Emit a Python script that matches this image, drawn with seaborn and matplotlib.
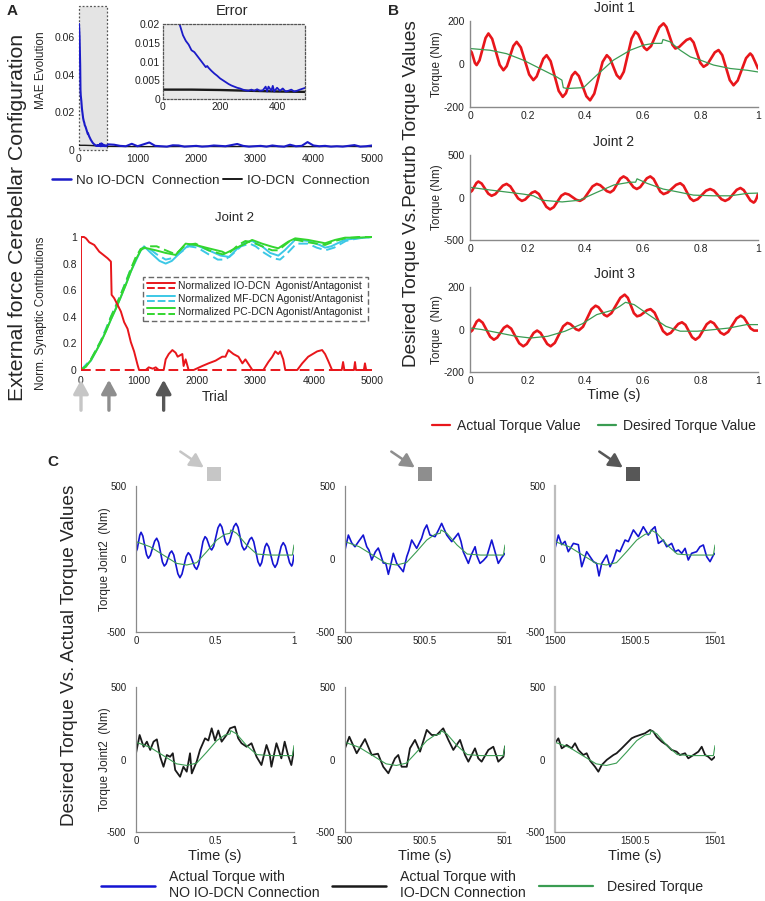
import numpy as np
import matplotlib
matplotlib.use("Agg")
import matplotlib.pyplot as plt
import seaborn as sns
from matplotlib.lines import Line2D
from matplotlib.patches import Rectangle, FancyArrowPatch
from matplotlib.legend_handler import HandlerBase
from matplotlib import font_manager

# ---------------- DATA ----------------
# Panel A (top): MAE evolution
mae_trials = [0, 10, 20, 25, 30, 40, 50, 60, 70, 80, 90, 100, 110, 120, 130, 140, 150, 155, 160, 170,
              180, 190, 200, 210, 220, 230, 240, 250, 260, 270, 280, 290, 300, 310, 320, 330, 340, 350,
              360, 365, 370, 380, 385, 390, 400, 410, 420, 430, 440, 450, 460, 470, 480,
              500, 600, 700, 800, 900, 1000, 1100, 1200, 1300, 1400, 1500, 1600, 1700, 1800, 1900,
              2000, 2100, 2200, 2300, 2400, 2500, 2600, 2700, 2800, 2900, 3000, 3100, 3200, 3300,
              3400, 3500, 3600, 3700, 3800, 3900, 4000, 4100, 4200, 4300, 4400, 4500, 4600, 4700,
              4800, 4900, 5000]
mae_no_io = [0.067, 0.060, 0.045, 0.032, 0.029, 0.026, 0.022, 0.0195, 0.017, 0.0155, 0.0145, 0.013,
             0.0125, 0.0115, 0.0105, 0.0095, 0.0085, 0.0088, 0.0083, 0.0075, 0.0068, 0.0062, 0.0055,
             0.0050, 0.0045, 0.0040, 0.0036, 0.0033, 0.0030, 0.0028, 0.0025, 0.0023, 0.0022, 0.0025,
             0.0022, 0.0026, 0.0022, 0.0023, 0.0033, 0.0020, 0.0033, 0.0022, 0.0035, 0.0020, 0.0030,
             0.0022, 0.0028, 0.0020, 0.0022, 0.0025, 0.0020, 0.0022, 0.0025,
             0.0030, 0.0028, 0.0022, 0.0020, 0.0033, 0.0020, 0.0030, 0.0040, 0.0022, 0.0020, 0.0018,
             0.0025, 0.0024, 0.0018, 0.0020, 0.0022, 0.0018, 0.0020, 0.0024, 0.0022, 0.0020, 0.0026,
             0.0032, 0.0022, 0.0018, 0.0020, 0.0022, 0.0018, 0.0024, 0.0020, 0.0018, 0.0028, 0.0020,
             0.0022, 0.0042, 0.0024, 0.0020, 0.0022, 0.0018, 0.0020, 0.0018, 0.0022, 0.0026, 0.0018,
             0.0020, 0.0024]
mae_io_trials = [0, 100, 200, 300, 400, 500, 1000, 1500, 2000, 2500, 3000, 3500, 4000, 4500, 5000]
mae_io = [0.0025, 0.0025, 0.0024, 0.0022, 0.0020, 0.0019, 0.0018, 0.0018, 0.0019, 0.0018, 0.0019,
          0.0018, 0.0018, 0.0019, 0.0018]

# Panel A (bottom): normalised synaptic contributions, Joint 2
io_ag_trial = [0, 0, 51, 86, 142, 228, 313, 371, 457, 514, 526, 570, 628, 685, 741, 800, 856, 912, 971,
               998, 1113, 1164, 1233, 1284, 1335, 1421, 1455, 1507, 1570, 1626, 1661, 1741, 1763, 1798,
               1849, 1935, 2083, 2191, 2311, 2426, 2482, 2534, 2619, 2705, 2773, 2825, 2945, 3133, 3219,
               3287, 3338, 3390, 3424, 3475, 3510, 3715, 3801, 3904, 4058, 4143, 4194, 4246, 4314, 4480,
               4503, 4525, 4690, 4708, 4725, 4860, 4879, 4900, 5000]
io_ag_val = [0, 1.0, 1.0, 0.99, 0.96, 0.94, 0.89, 0.87, 0.84, 0.815, 0.565, 0.54, 0.49, 0.44, 0.36, 0.31,
             0.21, 0.14, 0.04, 0.0, 0.0, 0.02, 0.01, 0.02, 0.0, 0.0, 0.08, 0.12, 0.15, 0.13, 0.10, 0.12,
             0.03, 0.08, 0.0, 0.0, 0.03, 0.05, 0.07, 0.10, 0.10, 0.15, 0.12, 0.10, 0.05, 0.08, 0.0, 0.0,
             0.06, 0.10, 0.14, 0.12, 0.14, 0.08, 0.0, 0.0, 0.05, 0.10, 0.14, 0.15, 0.12, 0.07, 0.0, 0.0,
             0.06, 0.0, 0.0, 0.06, 0.0, 0.0, 0.05, 0.0, 0.0]
io_an_trial = [0, 5000]
io_an_val = [0.0, 0.0]
pc_ag_trial = [0, 86, 171, 257, 342, 428, 514, 599, 685, 770, 856, 942, 1027, 1084, 1284, 1455, 1626,
               1798, 1969, 2191, 2426, 2482, 2654, 2825, 2940, 3111, 3282, 3390, 3561, 3681, 3903, 4194,
               4366, 4537, 4759, 5000]
pc_ag_val = [0.0, 0.025, 0.075, 0.14, 0.21, 0.29, 0.38, 0.46, 0.55, 0.64, 0.74, 0.83, 0.90, 0.92, 0.90,
             0.88, 0.865, 0.95, 0.94, 0.915, 0.89, 0.877, 0.915, 0.95, 0.978, 0.95, 0.927, 0.915, 0.965,
             0.99, 0.978, 0.953, 0.978, 0.995, 0.995, 1.0]
pc_an_trial = [0, 86, 171, 257, 342, 428, 514, 599, 685, 770, 856, 942, 1027, 1150, 1300, 1455, 1626,
               1798, 1969, 2191, 2426, 2550, 2700, 2825, 2940, 3111, 3282, 3390, 3561, 3681, 3903, 4194,
               4366, 4537, 4759, 5000]
pc_an_val = [0.0, 0.03, 0.08, 0.15, 0.22, 0.30, 0.40, 0.48, 0.57, 0.66, 0.76, 0.85, 0.91, 0.93, 0.93,
             0.90, 0.87, 0.94, 0.95, 0.90, 0.87, 0.88, 0.94, 0.97, 0.96, 0.93, 0.90, 0.90, 0.96, 0.98,
             0.96, 0.94, 0.97, 0.99, 1.0, 1.0]
mf_ag_trial = [0, 171, 342, 514, 685, 856, 1027, 1084, 1200, 1350, 1455, 1560, 1700, 1850, 1969, 2191,
               2400, 2550, 2700, 2825, 2940, 3111, 3250, 3390, 3500, 3681, 3903, 4100, 4194, 4300, 4537,
               4759, 5000]
mf_ag_val = [0.0, 0.07, 0.21, 0.38, 0.55, 0.74, 0.90, 0.93, 0.88, 0.82, 0.80, 0.82, 0.88, 0.94, 0.94,
             0.90, 0.86, 0.85, 0.92, 0.96, 0.97, 0.93, 0.88, 0.86, 0.90, 0.98, 0.97, 0.94, 0.92, 0.93,
             0.98, 0.99, 1.0]
mf_an_trial = [0, 171, 342, 514, 685, 856, 1027, 1150, 1300, 1455, 1560, 1700, 1850, 2000, 2191, 2350,
               2480, 2600, 2750, 2900, 3000, 3150, 3300, 3420, 3550, 3700, 3900, 4050, 4200, 4350, 4550,
               4759, 5000]
mf_an_val = [0.0, 0.08, 0.22, 0.40, 0.57, 0.76, 0.91, 0.92, 0.87, 0.83, 0.84, 0.88, 0.93, 0.92, 0.87,
             0.83, 0.83, 0.87, 0.93, 0.95, 0.93, 0.88, 0.84, 0.83, 0.88, 0.95, 0.95, 0.92, 0.90, 0.92,
             0.97, 0.99, 1.0]
arrow_trials = [0, 480, 1420]

# Panel B: desired vs perturbed torque
j1_t_act = [0, 0.006, 0.0115, 0.017, 0.023, 0.033, 0.0435, 0.054, 0.064, 0.077, 0.09, 0.103, 0.116,
            0.1275, 0.139, 0.1505, 0.162, 0.1765, 0.191, 0.2055, 0.22, 0.2315, 0.243, 0.2545, 0.266,
            0.28, 0.294, 0.308, 0.322, 0.333, 0.3435, 0.354, 0.365, 0.378, 0.391, 0.404, 0.417, 0.4315,
            0.446, 0.4605, 0.475, 0.4865, 0.498, 0.5095, 0.521, 0.534, 0.5475, 0.561, 0.574, 0.584,
            0.594, 0.604, 0.614, 0.6285, 0.643, 0.6575, 0.672, 0.682, 0.6925, 0.703, 0.713, 0.726,
            0.739, 0.752, 0.765, 0.7765, 0.788, 0.7995, 0.811, 0.824, 0.837, 0.85, 0.863, 0.876, 0.889,
            0.902, 0.915, 0.9295, 0.944, 0.9585, 0.973, 0.98, 0.99, 1.0]
j1_act = [64, 54, 30, 5, -5, 17, 69, 121, 142, 117, 57, -4, -29, -10, 37, 84, 103, 77, 14, -49, -75, -58,
          -17, 24, 41, 13, -56, -125, -153, -136, -95, -54, -37, -56, -103, -150, -169, -138, -64, 10, 41,
          25, -14, -52, -68, -36, 41, 118, 150, 138, 108, 77, 65, 83, 127, 171, 189, 172, 131, 89, 72, 79,
          96, 112, 119, 100, 53, 6, -13, -2, 26, 54, 65, 41, -17, -75, -99, -77, -25, 27, 49, 39, 10, -21]
j1_t_des = [0, 0.07, 0.127, 0.185, 0.243, 0.301, 0.319, 0.324, 0.336, 0.394, 0.44, 0.498, 0.556, 0.603,
            0.637, 0.666, 0.67, 0.695, 0.73, 0.765, 0.8, 0.846, 0.904, 0.962, 1.0]
j1_des = [72, 64, 48, 18, -21, -60, -75, -110, -114, -110, -52, 18, 64, 88, 96, 96, 114, 103, 64, 33, 18,
          -5, -21, -29, -37]
j2_t_act = [0, 0.007, 0.0145, 0.022, 0.029, 0.0405, 0.052, 0.0635, 0.075, 0.088, 0.101, 0.114, 0.127,
            0.14, 0.1535, 0.167, 0.18, 0.1915, 0.203, 0.2145, 0.226, 0.239, 0.252, 0.265, 0.278, 0.291,
            0.304, 0.317, 0.33, 0.343, 0.356, 0.369, 0.382, 0.3965, 0.411, 0.4255, 0.44, 0.452, 0.4635,
            0.475, 0.487, 0.4985, 0.51, 0.5215, 0.533, 0.5445, 0.556, 0.5675, 0.579, 0.591, 0.6025,
            0.614, 0.626, 0.6375, 0.649, 0.6605, 0.672, 0.6865, 0.701, 0.7155, 0.73, 0.7415, 0.753,
            0.7645, 0.776, 0.7905, 0.805, 0.8195, 0.834, 0.847, 0.86, 0.873, 0.886, 0.899, 0.9125, 0.926,
            0.939, 0.9505, 0.962, 0.9735, 0.985, 0.99, 0.995, 1.0]
j2_act = [60, 79, 124, 169, 188, 164, 104, 45, 20, 40, 90, 140, 160, 131, 60, -11, -40, -24, 16, 56, 72,
          41, -34, -109, -140, -113, -46, 21, 48, 35, 4, -27, -40, -11, 60, 131, 160, 145, 110, 75, 60,
          87, 154, 221, 248, 226, 174, 122, 100, 122, 174, 226, 248, 218, 144, 70, 40, 59, 104, 149, 168,
          138, 64, -10, -40, -20, 30, 80, 100, 80, 30, -20, -40, -18, 36, 90, 112, 87, 26, -35, -60, -45,
          -10, 40]
j2_t_des = [0, 0.07, 0.185, 0.22, 0.25, 0.32, 0.38, 0.44, 0.5, 0.556, 0.575, 0.58, 0.614, 0.67, 0.73,
            0.776, 0.846, 0.904, 0.962, 1.0]
j2_des = [120, 88, 40, 20, -32, -52, -32, 60, 148, 180, 180, 220, 168, 100, 60, 28, 20, 20, 48, 52]
j3_t_act = [0, 0.008, 0.0155, 0.023, 0.031, 0.044, 0.057, 0.07, 0.083, 0.0945, 0.106, 0.1175, 0.129,
            0.143, 0.157, 0.171, 0.185, 0.197, 0.209, 0.221, 0.233, 0.245, 0.2565, 0.268, 0.28, 0.2945,
            0.309, 0.3235, 0.338, 0.348, 0.358, 0.368, 0.378, 0.3925, 0.407, 0.4215, 0.436, 0.446, 0.456,
            0.466, 0.476, 0.491, 0.5065, 0.522, 0.537, 0.548, 0.5585, 0.569, 0.58, 0.592, 0.6035, 0.615,
            0.627, 0.641, 0.6555, 0.67, 0.684, 0.697, 0.71, 0.723, 0.736, 0.748, 0.7595, 0.771, 0.783,
            0.796, 0.809, 0.822, 0.835, 0.847, 0.8585, 0.87, 0.882, 0.8965, 0.911, 0.9255, 0.94, 0.9515,
            0.963, 0.9745, 0.986, 1.0]
j3_act = [-13, -4, 17, 37, 46, 32, -1, -34, -48, -38, -15, 8, 18, 4, -31, -65, -79, -68, -42, -16, -5,
          -16, -42, -68, -79, -63, -24, 15, 31, 26, 14, 1, -4, 13, 54, 95, 112, 105, 87, 69, 62, 77, 113,
          149, 164, 149, 113, 77, 62, 67, 79, 91, 96, 79, 36, -7, -24, -16, 5, 26, 34, 22, -7, -36, -48,
          -35, -5, 25, 38, 29, 7, -15, -24, -11, 21, 52, 65, 55, 30, 5, -5, -5]
j3_t_des = [0, 0.04, 0.1, 0.16, 0.21, 0.27, 0.33, 0.39, 0.44, 0.5, 0.52, 0.54, 0.57, 0.62, 0.68, 0.73,
            0.79, 0.85, 0.9, 0.96, 1.0]
j3_des = [7, 0, -16, -32, -40, -32, -8, 27, 70, 93, 109, 128, 117, 70, 15, -8, -8, 0, 7, 23, 23]

# Panel C: Joint 2 torque at three learning stages (time within the 1 s window)
c_starts = [0, 500, 1500]
c_tick_labels = [["0", "0.5", "1"], ["500", "500.5", "501"], ["1500", "1500.5", "1501"]]
c_t_des = [0, 0.089, 0.173, 0.257, 0.321, 0.384, 0.447, 0.511, 0.563, 0.595, 0.6, 0.637, 0.7, 0.764,
           0.848, 0.932, 0.99, 1.0]
c_des = [119, 84, 27, -30, -41, -25, 50, 130, 169, 176, 199, 176, 96, 34, 27, 27, 27, 96]
c1_t_noio = [0, 0.008, 0.016, 0.024, 0.032, 0.0435, 0.055, 0.0665, 0.078, 0.091, 0.1045, 0.118, 0.131,
             0.143, 0.155, 0.167, 0.179, 0.191, 0.2025, 0.214, 0.226, 0.239, 0.252, 0.265, 0.278, 0.291,
             0.3045, 0.318, 0.331, 0.344, 0.3575, 0.371, 0.384, 0.397, 0.4105, 0.424, 0.437, 0.4475,
             0.458, 0.4685, 0.479, 0.492, 0.5055, 0.519, 0.532, 0.5435, 0.555, 0.5665, 0.578, 0.592,
             0.6055, 0.619, 0.633, 0.646, 0.6585, 0.671, 0.684, 0.696, 0.708, 0.72, 0.732, 0.745, 0.7585,
             0.772, 0.785, 0.7955, 0.806, 0.8165, 0.827, 0.84, 0.8535, 0.867, 0.88, 0.893, 0.906, 0.919,
             0.932, 0.945, 0.9585, 0.972, 0.985, 0.99, 0.995, 1.0]
c1_noio = [50, 69, 117, 164, 183, 157, 94, 31, 5, 25, 74, 122, 142, 114, 47, -20, -48, -33, 4, 40, 55, 28,
           -37, -101, -128, -103, -43, 18, 43, 26, -14, -54, -71, -38, 41, 120, 153, 140, 108, 75, 62, 88,
           151, 214, 240, 219, 168, 117, 96, 118, 170, 222, 244, 217, 153, 89, 62, 75, 105, 135, 148, 119,
           50, -19, -48, -25, 30, 84, 107, 83, 25, -33, -57, -32, 28, 87, 112, 89, 32, -25, -48, -37, -10,
           27]
c2_t_noio = [0, 0.021, 0.042, 0.0625, 0.085, 0.114, 0.136, 0.15, 0.167, 0.19, 0.208, 0.22, 0.239, 0.255,
             0.271, 0.29, 0.302, 0.323, 0.345, 0.364, 0.386, 0.4, 0.417, 0.448, 0.479, 0.495, 0.511,
             0.531, 0.563, 0.585, 0.604, 0.636, 0.667, 0.708, 0.725, 0.739, 0.771, 0.79, 0.813, 0.825,
             0.844, 0.865, 0.886, 0.917, 0.935, 0.958, 0.98, 1.0]
c2_noio = [62, 164, 110, 84, 120, 164, 84, 60, -7, 50, 75, 39, -27, -30, -105, -20, 39, -30, -60, -87, 16,
           60, 130, 73, 142, 200, 233, 164, 153, 200, 244, 164, 119, 176, 120, 50, -30, 30, 84, 20, -30,
           -10, 16, 130, 60, -30, 10, 39]
c3_t_noio = [0, 0.021, 0.042, 0.0625, 0.083, 0.115, 0.146, 0.167, 0.198, 0.219, 0.24, 0.26, 0.275, 0.292,
             0.323, 0.344, 0.365, 0.385, 0.406, 0.438, 0.458, 0.49, 0.521, 0.552, 0.583, 0.604, 0.625,
             0.646, 0.677, 0.698, 0.729, 0.75, 0.771, 0.792, 0.813, 0.833, 0.854, 0.885, 0.906, 0.927,
             0.948, 0.969, 0.99, 1.0]
c3_noio = [73, 164, 98, 121, 50, 107, 98, -53, 50, 16, -18, -30, -116, -30, 27, -53, -7, 62, 50, 130, 119,
           199, 153, 221, 164, 199, 221, 107, 130, 84, 107, 50, 62, 39, 73, -7, 39, 50, 84, 96, 16, -18,
           27, 39]
c1_t_io = [0, 0.023, 0.048, 0.069, 0.09, 0.111, 0.132, 0.153, 0.174, 0.195, 0.216, 0.233, 0.248, 0.279,
           0.3, 0.321, 0.342, 0.353, 0.384, 0.405, 0.437, 0.458, 0.479, 0.5, 0.521, 0.542, 0.573, 0.595,
           0.626, 0.647, 0.668, 0.7, 0.731, 0.763, 0.794, 0.826, 0.847, 0.857, 0.889, 0.92, 0.941, 0.962,
           0.983, 1.0]
c1_io = [43, 169, 88, 123, 66, 123, 139, 19, -50, 31, 19, 43, -72, -119, -50, -84, 43, -96, -15, 66, 146,
         131, 215, 131, 200, 123, 169, 215, 227, 146, 112, 88, 112, 19, -38, 100, 31, -50, 112, 8, 123, 31,
         -38, 66]
c2_t_io = [0, 0.027, 0.073, 0.125, 0.167, 0.206, 0.239, 0.271, 0.3125, 0.333, 0.354, 0.386, 0.406, 0.4375,
           0.469, 0.511, 0.542, 0.573, 0.614, 0.646, 0.677, 0.719, 0.75, 0.771, 0.8125, 0.833, 0.854,
           0.896, 0.927, 0.958, 0.99, 1.0]
c2_io = [77, 157, 43, 141, 31, 40, -50, -95, 8, 31, -50, -50, 77, 135, 54, 204, 169, 169, 215, 135, 66,
         135, 31, -15, 77, 8, -15, 66, 88, -15, 19, 88]
c3_t_io = [0, 0.021, 0.042, 0.073, 0.104, 0.125, 0.146, 0.177, 0.198, 0.219, 0.25, 0.271, 0.292, 0.323,
           0.365, 0.385, 0.417, 0.479, 0.5, 0.531, 0.563, 0.594, 0.615, 0.635, 0.667, 0.698, 0.729, 0.76,
           0.781, 0.813, 0.833, 0.865, 0.896, 0.917, 0.938, 0.958, 0.979, 1.0]
c3_io = [112, 146, 77, 100, 77, 112, 66, 31, 43, -8, -50, -84, -38, -3, 31, 43, 77, 146, 157, 169, 181,
         204, 192, 157, 123, 100, 66, 54, 31, 43, 8, 31, 54, 88, 31, 19, -3, 19]

# ---------------- STYLE ----------------
sns.set_theme(style="white")
plt.rcParams['font.family'] = ['Liberation Sans', 'DejaVu Sans']
names = {f.name for f in font_manager.fontManager.ttflist}
NARROW = 'Liberation Sans Narrow' if 'Liberation Sans Narrow' in names else 'Liberation Sans'

RED = '#e8161b'
BLUE_A = '#1b1bc8'
BLUE_C = '#1414d2'
BLACK = '#1a1a1a'
GREEN_A = '#33d62f'
CYAN = '#3cc8e6'
GREEN_D = '#3a9c52'
GRAY_SP = '#8a8a8a'
ARROW_COLS = ['#c6c6c6', '#8e8e8e', '#575757']

W, H = 765, 901
fig = plt.figure(figsize=(W / 100, H / 100), dpi=100)


def add_ax(l, t, r, b):
    return fig.add_axes([l / W, 1 - b / H, (r - l) / W, (b - t) / H])


def ftext(x, y, s, **kw):
    fig.text(x / W, 1 - y / H, s, **kw)


def line(ax, x, y, **kw):
    sns.lineplot(x=np.asarray(x, dtype=float), y=np.asarray(y, dtype=float), ax=ax,
                 estimator=None, sort=False, legend=False, **kw)
    ln = ax.lines[-1]
    ln.set_solid_joinstyle('round')
    return ln


def clean(ax):
    ax.set_xlabel("")
    ax.set_ylabel("")
    ax.grid(False)


# ================= PANEL A (top) =================
axA = add_ax(79, 5, 372, 150)
axA.add_patch(Rectangle((0, 0), 480, 0.0766, facecolor='#e4e4e4', edgecolor='#555555',
                        ls=(0, (1.5, 1.5)), lw=0.9, zorder=0, clip_on=False))
line(axA, mae_io_trials, mae_io, color=BLACK, lw=1.0)
line(axA, mae_trials, mae_no_io, color=BLUE_A, lw=1.5)
clean(axA)
axA.set_xlim(0, 5000)
axA.set_ylim(0, 0.077)
for s in axA.spines.values():
    s.set_visible(False)
axA.set_xticks([0, 1000, 2000, 3000, 4000, 5000], ["0", "1000", "2000", "3000", "4000", "5000"],
               fontsize=7.5)
axA.set_yticks([0, 0.02, 0.04, 0.06], ["0", "0.02", "0.04", "0.06"], fontsize=7.5)
axA.tick_params(length=0, pad=3, colors='#222222')
axA.set_ylabel("MAE Evolution", fontsize=8.5)
axA.yaxis.set_label_coords(-0.11, 0.55)

axIn = add_ax(163, 24, 305, 99)
axIn.set_facecolor('#e8e8e8')
line(axIn, mae_io_trials, mae_io, color=BLACK, lw=1.7)
line(axIn, mae_trials, mae_no_io, color=BLUE_A, lw=1.3)
clean(axIn)
axIn.set_xlim(0, 498)
axIn.set_ylim(0, 0.02)
for s in axIn.spines.values():
    s.set_visible(True)
    s.set_linestyle((0, (1.5, 1.5)))
    s.set_color('#555555')
    s.set_linewidth(0.9)
axIn.set_xticks([0, 200, 400], ["0", "200", "400"], fontsize=7.5)
axIn.set_yticks([0, 0.005, 0.01, 0.015, 0.02], ["0", "0.005", "0.01", "0.015", "0.02"], fontsize=7.5)
axIn.tick_params(length=0, pad=2, colors='#222222')
ftext(232, 11, "Error", fontsize=10.5, ha='center', va='center')

fig.legend(handles=[Line2D([], [], color=BLUE_A, lw=1.8), Line2D([], [], color=BLACK, lw=1.4)],
           labels=["No IO-DCN  Connection", "IO-DCN  Connection"], loc='center',
           bbox_to_anchor=(211 / W, 1 - 181 / H), ncol=2, frameon=False, fontsize=9.6,
           handlelength=1.4, handletextpad=0.4, columnspacing=0.3)

# ================= PANEL A (bottom) =================
axS = add_ax(81, 233, 372, 372)
line(axS, mf_ag_trial, mf_ag_val, color=CYAN, lw=1.4)
line(axS, mf_an_trial, mf_an_val, color=CYAN, lw=1.4).set_dashes([5, 2.5])
line(axS, pc_ag_trial, pc_ag_val, color=GREEN_A, lw=1.4)
line(axS, pc_an_trial, pc_an_val, color=GREEN_A, lw=1.4).set_dashes([5, 2.5])
line(axS, io_an_trial, io_an_val, color=RED, lw=1.4).set_dashes([5, 2.5])
line(axS, io_ag_trial, io_ag_val, color=RED, lw=1.4)
clean(axS)
axS.set_xlim(0, 5000)
axS.set_ylim(-0.015, 1.03)
for s in axS.spines.values():
    s.set_visible(False)
axS.set_xticks([0, 1000, 2000, 3000, 4000, 5000], ["0", "1000", "2000", "3000", "4000", "5000"],
               fontsize=7.5)
axS.set_yticks([0, 0.2, 0.4, 0.6, 0.8, 1.0], ["0", "0.2", "0.4", "0.6", "0.8", "1"], fontsize=7.5)
axS.tick_params(length=0, pad=3, colors='#222222')
axS.set_ylabel("Norm. Synaptic Contributions", fontsize=8.5)
axS.yaxis.set_label_coords(-0.118, 0.42)
ftext(234, 218, "Joint 2", fontsize=9.5, ha='center', va='center')
ftext(215, 397, "Trial", fontsize=10, ha='center', va='center')


class StackHandler(HandlerBase):
    def create_artists(self, legend, orig_handle, xdescent, ydescent, width, height, fontsize, trans):
        col = orig_handle[0].get_color()
        y1 = -ydescent + height * 0.9
        y2 = -ydescent + height * 0.2
        a = Line2D([-xdescent, -xdescent + width], [y1, y1], color=col, lw=1.4, transform=trans)
        b = Line2D([-xdescent, -xdescent + width], [y2, y2], color=col, lw=1.4,
                   dashes=[4, 1.5], transform=trans)
        return [a, b]


stack_handles = [(Line2D([], [], color=c), Line2D([], [], color=c)) for c in [RED, CYAN, GREEN_A]]
legS = axS.legend(handles=stack_handles,
                  labels=["Normalized IO-DCN  Agonist/Antagonist", "Normalized MF-DCN Agonist/Antagonist",
                          "Normalized PC-DCN Agonist/Antagonist"],
                  handler_map={tuple: StackHandler()}, loc='upper left',
                  bbox_to_anchor=(143 / W, 1 - 277 / H), bbox_transform=fig.transFigure,
                  fontsize=7.5, frameon=True, fancybox=False, borderpad=0.4, handlelength=2.7,
                  handletextpad=0.3, labelspacing=0.28, borderaxespad=0)
fr = legS.get_frame()
fr.set_linestyle((0, (4, 2)))
fr.set_edgecolor('#444444')
fr.set_linewidth(1.0)

for xt, col in zip(arrow_trials, ARROW_COLS):
    px = 81 + xt / 5000 * 291
    fig.add_artist(FancyArrowPatch((px / W, 1 - 413 / H), (px / W, 1 - 377 / H),
                                   transform=fig.transFigure, arrowstyle='-|>,head_length=0.55,head_width=0.3',
                                   mutation_scale=15, color=col, lw=2.4))

# ================= PANEL B =================
b_specs = [((21, 107), (-200, 200), j1_t_act, j1_act, j1_t_des, j1_des, "Joint 1", 8, "Torque (Nm)"),
           ((155, 240), (-500, 500), j2_t_act, j2_act, j2_t_des, j2_des, "Joint 2", 142, "Torque (Nm)"),
           ((287, 372), (-200, 200), j3_t_act, j3_act, j3_t_des, j3_des, "Joint 3", 274, "Torque  (Nm)")]
for (top, bot), ylim, ta, va, td, vd, title, ty, ylab in b_specs:
    ax = add_ax(470, top, 758, bot)
    line(ax, ta, va, color=RED, lw=1.9)
    line(ax, td, vd, color=GREEN_D, lw=0.9)
    clean(ax)
    ax.set_xlim(0, 1)
    ax.set_ylim(*ylim)
    ax.spines['top'].set_visible(False)
    ax.spines['right'].set_visible(False)
    for sp in ['left', 'bottom']:
        ax.spines[sp].set_color(GRAY_SP)
        ax.spines[sp].set_linewidth(1.0)
    ax.set_xticks([0, 0.2, 0.4, 0.6, 0.8, 1.0], ["0", "0.2", "0.4", "0.6", "0.8", "1"],
                  fontsize=7.5, fontfamily=NARROW)
    ax.set_yticks([ylim[0], 0, ylim[1]], [str(ylim[0]), "0", str(ylim[1])], fontsize=7.5,
                  fontfamily=NARROW)
    ax.tick_params(axis='x', direction='in', length=3, color=GRAY_SP, pad=3, labelcolor='#222222')
    ax.tick_params(axis='y', length=0, pad=4, labelcolor='#222222')
    ax.set_ylabel(ylab, fontsize=8.5)
    ax.yaxis.set_label_coords(-0.095, 0.5)
    ftext(614, ty, title, fontsize=10, ha='center', va='center')
ftext(614, 395, "Time (s)", fontsize=10.5, ha='center', va='center')
fig.legend(handles=[Line2D([], [], color=RED, lw=1.6), Line2D([], [], color=GREEN_D, lw=1.6)],
           labels=["Actual Torque Value", "Desired Torque Value"], loc='center',
           bbox_to_anchor=(594 / W, 1 - 426 / H), ncol=2, frameon=False, fontsize=10,
           handlelength=1.3, handletextpad=0.5, columnspacing=1.3)

# ================= PANEL C =================
c_cols = [(136, 294), (345, 505), (555, 715)]
c_rows = [(486, 632), (687, 832)]
noio_t = [c1_t_noio, c2_t_noio, c3_t_noio]
noio_v = [c1_noio, c2_noio, c3_noio]
io_t = [c1_t_io, c2_t_io, c3_t_io]
io_v = [c1_io, c2_io, c3_io]
for r, (top, bot) in enumerate(c_rows):
    for c, (left, right) in enumerate(c_cols):
        ax = add_ax(left, top, right, bot)
        t0 = c_starts[c]
        if r == 0:
            line(ax, np.asarray(noio_t[c]) + t0, noio_v[c], color=BLUE_C, lw=1.2)
        else:
            line(ax, np.asarray(io_t[c]) + t0, io_v[c], color=BLACK, lw=1.3)
        line(ax, np.asarray(c_t_des) + t0, c_des, color=GREEN_D, lw=0.8)
        clean(ax)
        ax.set_xlim(t0, t0 + 1)
        ax.set_ylim(-500, 500)
        ax.spines['top'].set_visible(False)
        ax.spines['right'].set_visible(False)
        ax.spines['bottom'].set_color(GRAY_SP)
        ax.spines['bottom'].set_linewidth(0.9)
        ax.spines['left'].set_color('#bdbdbd' if c == 2 else GRAY_SP)
        ax.spines['left'].set_linewidth(1.6 if c == 2 else 0.9)
        ax.set_xticks([t0, t0 + 0.5, t0 + 1], c_tick_labels[c], fontsize=7, fontfamily=NARROW)
        ax.set_yticks([-500, 0, 500], ["-500", "0", "500"], fontsize=7, fontfamily=NARROW)
        ax.tick_params(axis='x', direction='in', length=3, color=GRAY_SP, pad=3, labelcolor='#222222')
        ax.tick_params(axis='y', length=0, pad=7, labelcolor='#222222')
        if c == 0:
            ax.set_ylabel("Torque Joint2  (Nm)", fontsize=8.5)
            ax.yaxis.set_label_coords(-0.16, 0.5)
        if r == 1:
            ax.set_xlabel("Time (s)", fontsize=10.5, labelpad=2)

# arrows + squares above panel C
sq_centers = [214, 425, 633]
for cx, col in zip(sq_centers, ARROW_COLS):
    fig.add_artist(Rectangle(((cx - 7) / W, 1 - 481 / H), 14 / W, 14 / H, transform=fig.transFigure,
                             facecolor=col, edgecolor='none'))
    fig.add_artist(FancyArrowPatch(((cx - 36) / W, 1 - 450 / H), ((cx - 8) / W, 1 - 469 / H),
                                   transform=fig.transFigure,
                                   arrowstyle='-|>,head_length=0.55,head_width=0.3',
                                   mutation_scale=15, color=col, lw=1.8))

fig.legend(handles=[Line2D([], [], color=BLUE_C, lw=1.8), Line2D([], [], color=BLACK, lw=1.8),
                    Line2D([], [], color=GREEN_D, lw=1.6)],
           labels=["Actual Torque with\nNO IO-DCN Connection", "Actual Torque with\nIO-DCN Connection",
                   "Desired Torque"],
           loc='center', bbox_to_anchor=(402 / W, 1 - 885 / H), ncol=3, frameon=False, fontsize=10.2,
           handlelength=3.8, handletextpad=1.0, columnspacing=0.9, labelspacing=0.1)

# ================= BIG LABELS =================
ftext(18, 217, "External force Cerebellar Configuration", fontsize=15.3, rotation=90,
      ha='center', va='center')
ftext(411, 194, "Desired Torque Vs.Perturb Torque Values", fontsize=13.7, rotation=90,
      ha='center', va='center')
ftext(70, 655, "Desired Torque Vs. Actual Torque Values", fontsize=13.7, rotation=90,
      ha='center', va='center')
ftext(12, 11, "A", fontsize=11, fontweight='bold', ha='center', va='center')
ftext(394, 11, "B", fontsize=11, fontweight='bold', ha='center', va='center')
ftext(53, 462, "C", fontsize=11, fontweight='bold', ha='center', va='center')

fig.savefig("out.png", dpi=100)
